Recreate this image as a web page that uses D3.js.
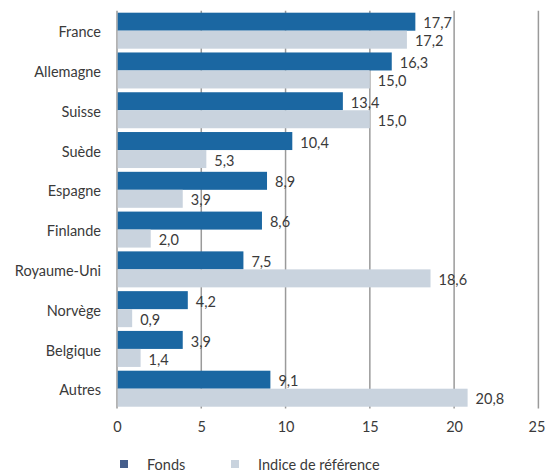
<!DOCTYPE html>
<html><head><meta charset="utf-8">
<script src="https://cdn.jsdelivr.net/npm/d3@7"></script>
<style>body{margin:0;background:#fff}svg{display:block;font-family:Lato,"Open Sans",sans-serif}</style>
</head><body><svg id="c" width="546" height="473"></svg>
<script>
const categories = ["France","Allemagne","Suisse","Suède","Espagne","Finlande","Royaume-Uni","Norvège","Belgique","Autres"];
const fonds = [17.7,16.3,13.4,10.4,8.9,8.6,7.5,4.2,3.9,9.1];
const indice = [17.2,15.0,15.0,5.3,3.9,2.0,18.6,0.9,1.4,20.8];
const seriesNames = ["Fonds","Indice de référence"];
const xTicks = [0,5,10,15,20,25];

const FS = 14.5;
const TC = "#3a3a3a";
const svg = d3.select("#c");
const x = d3.scaleLinear().domain([0,25]).range([117,538.4]);
const y = d3.scaleBand().domain(categories).range([10.8,408.6]).paddingInner(0.095).paddingOuter(0.0475);
const sub = d3.scaleBand().domain([0,1]).range([0,y.bandwidth()]).paddingInner(0);
const colors = ["#1b67a2","#c9d3de"];
const fmt = v => d3.format(".1f")(v).replace(".",",");

// gridlines
svg.append("g").selectAll("line").data(xTicks).join("line")
  .attr("x1",d=>x(d)).attr("x2",d=>x(d)).attr("y1",10.8).attr("y2",408.6)
  .attr("stroke","#9a9a9a").attr("stroke-width",1.5);

const data = categories.map((c,i)=>({c, vals:[fonds[i],indice[i]]}));
const g = svg.append("g").selectAll("g").data(data).join("g")
  .attr("transform",d=>`translate(0,${y(d.c)})`);
g.selectAll("rect").data(d=>d.vals).join("rect")
  .attr("x",x(0)+0.75).attr("y",(d,i)=>sub(i))
  .attr("width",d=>x(d)-x(0)-0.75).attr("height",sub.bandwidth())
  .attr("fill",(d,i)=>colors[i]);
g.selectAll("text.v").data(d=>d.vals).join("text").attr("class","v")
  .attr("x",d=>x(d)+8).attr("y",(d,i)=>sub(i)+sub.bandwidth()/2+3)
  .attr("dominant-baseline","middle").attr("font-size",FS).attr("fill",TC)
  .text(fmt);

// category labels
svg.append("g").selectAll("text").data(categories).join("text")
  .attr("x",101).attr("y",d=>y(d)+y.bandwidth()/2+3)
  .attr("text-anchor","end").attr("dominant-baseline","middle")
  .attr("font-size",FS).attr("fill",TC).text(d=>d);

// x axis
const ax = svg.append("g").attr("transform","translate(0,408.6)")
  .call(d3.axisBottom(x).tickValues(xTicks).tickSize(0).tickPadding(13).tickFormat(d=>d));
ax.select(".domain").remove();
ax.selectAll("text").attr("font-size",FS).attr("fill",TC)
  .attr("font-family","Lato,'Open Sans',sans-serif")
  .attr("dx",d=>d===25?-2:0);

// legend
const lg = svg.append("g");
const lx = [120,231];
const legColors = ["#455e8b","#c9d3de"];
seriesNames.forEach((n,i)=>{
  lg.append("rect").attr("x",lx[i]).attr("y",460).attr("width",8).attr("height",8).attr("fill",legColors[i]);
  lg.append("text").attr("x",lx[i]+27).attr("y",466.5).attr("dominant-baseline","middle")
    .attr("font-size",FS).attr("fill",TC).text(n);
});
</script></body></html>
